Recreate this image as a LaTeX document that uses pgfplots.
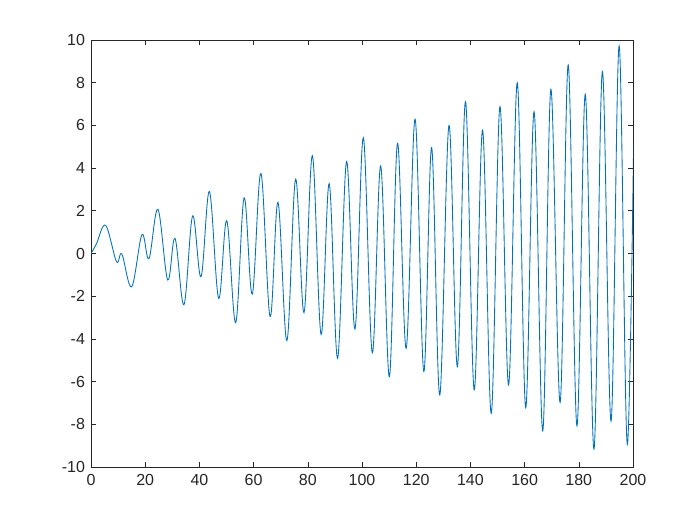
\documentclass[border=0pt]{standalone}
\usepackage{fontspec}
\setmainfont{Liberation Sans}
\usepackage{pgfplots}
\pgfplotsset{compat=1.18}
\definecolor{mblue}{rgb}{0,0.447,0.741}
\definecolor{axgray}{rgb}{0.15,0.15,0.15}
\begin{document}
\begin{tikzpicture}[x=1pt,y=1pt]
\useasboundingbox[fill=white] (0,0) rectangle (525,393.75);
\begin{axis}[
  at={(68.25pt,43.5pt)}, anchor=south west,
  scale only axis, width=406.5pt, height=320.25pt,
  xmin=0, xmax=200, ymin=-10, ymax=10,
  xtick={0,20,40,60,80,100,120,140,160,180,200},
  xticklabels={0,20,40,60,80,100,120,140,160,180,200},
  ytick={-10,-8,-6,-4,-2,0,2,4,6,8,10},
  yticklabels={-10,-8,-6,-4,-2,0,2,4,6,8,10},
  tick align=inside, major tick length=4pt,
  axis line style={draw=axgray, line width=0.45pt},
  every tick/.style={draw=axgray, line width=0.45pt},
  ticklabel style={font=\fontsize{12}{14}\selectfont, text=axgray},
  xticklabel style={yshift=-2pt},
  yticklabel style={xshift=-1pt},
]
\addplot[mblue, line width=0.65pt, smooth, tension=0.6] coordinates {
(0,0) (2,0.45) (5.4,1.32) (9.4,-0.38) (11.4,-0.03) (15.0,-1.56) (18.8,0.88) (21.4,-0.24)
(24.7,2.07) (28.3,-1.24) (31.0,0.71) (34.3,-2.4) (37.5,1.76) (40.6,-1.09)
(43.7,2.9) (47.1,-2.1) (50.1,1.54) (53.4,-3.24) (56.5,2.61) (59.5,-1.9)
(62.7,3.75) (66.1,-2.96) (69.0,2.4) (72.3,-4.08) (75.5,3.48) (78.6,-2.77)
(81.7,4.58) (84.9,-3.79) (87.9,3.27) (91.0,-4.91) (94.3,4.3) (97.4,-3.54)
(100.5,5.42) (103.8,-4.65) (106.9,4.1) (110.1,-5.77) (113.1,5.16) (116.3,-4.44)
(119.6,6.29) (122.8,-5.53) (125.7,4.96) (128.7,-6.63) (132.1,6.0) (135.2,-5.3)
(138.2,7.11) (141.4,-6.39) (144.5,5.78) (147.7,-7.49) (150.9,6.88) (154.1,-6.16)
(157.3,8.0) (160.4,-7.22) (163.5,6.64) (166.7,-8.31) (169.7,7.69) (173.1,-6.97)
(176.1,8.83) (179.3,-8.07) (182.4,7.46) (185.6,-9.16) (188.7,8.52) (191.9,-7.85)
(194.9,9.72) (197.9,-8.94) (200.6,8.6)
};
\end{axis}
\end{tikzpicture}
\end{document}
